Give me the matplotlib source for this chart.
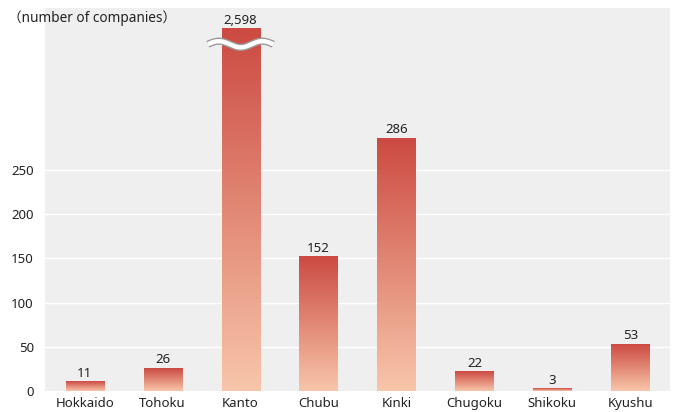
import matplotlib.pyplot as plt
import numpy as np
from matplotlib.colors import LinearSegmentedColormap

plt.rcParams['font.family'] = ['Noto Sans', 'Noto Sans CJK JP']

regions = ["Hokkaido", "Tohoku", "Kanto", "Chubu", "Kinki",
           "Chugoku", "Shikoku", "Kyushu"]
companies = [11, 26, 2598, 152, 286, 22, 3, 53]
y_ticks = [0, 50, 100, 150, 200, 250]

# Kanto is drawn with a broken bar
cap = 410
y_top = 433

cmap = LinearSegmentedColormap.from_list("bar", ["#f8c6aa", "#cc4a42"])

fig = plt.figure(figsize=(6.76, 4.12), dpi=100)
ax = fig.add_axes([45 / 676, 21 / 412, 625 / 676, 383 / 412])
ax.set_facecolor("#efefef")

width = 0.49
grad = np.linspace(0, 1, 256).reshape(-1, 1)

for i, v in enumerate(companies):
    h = min(v, cap)
    ax.imshow(grad, cmap=cmap, origin="lower", aspect="auto",
              extent=(i - width / 2, i + width / 2, 0, h), zorder=2)
    ax.text(i, h + 2, f"{v:,}", ha="center", va="bottom",
            fontsize=9.5, color="#222222", zorder=4)

# break mark on Kanto
k = regions.index("Kanto")
wx = np.linspace(k - 0.42, k + 0.42, 200)
wy = 392 + 3.5 * np.sin((wx - (k - 0.42)) / 0.84 * 3 * np.pi)
ax.plot(wx, wy, color="#9a9a9a", lw=5.2, solid_capstyle="butt", zorder=3)
ax.plot(wx, wy, color="white", lw=3.2, solid_capstyle="butt", zorder=3)

ax.set_xlim(-0.51, len(regions) - 0.49)
ax.set_ylim(0, y_top)
ax.set_yticks(y_ticks)
ax.set_yticklabels([str(t) for t in y_ticks])
ax.set_xticks(range(len(regions)))
ax.set_xticklabels(regions)
ax.tick_params(length=0, labelsize=9.5, labelcolor="#222222")
ax.tick_params(axis="y", pad=8)
ax.tick_params(axis="x", pad=4)
for t in y_ticks[1:]:
    ax.axhline(t, color="white", lw=1, zorder=1)
for s in ax.spines.values():
    s.set_visible(False)

fig.text(8 / 676, 1 - 18 / 412, "（number of companies）", fontsize=9.8,
         color="#222222", va="center", ha="left")

fig.savefig("out.png", dpi=100)
